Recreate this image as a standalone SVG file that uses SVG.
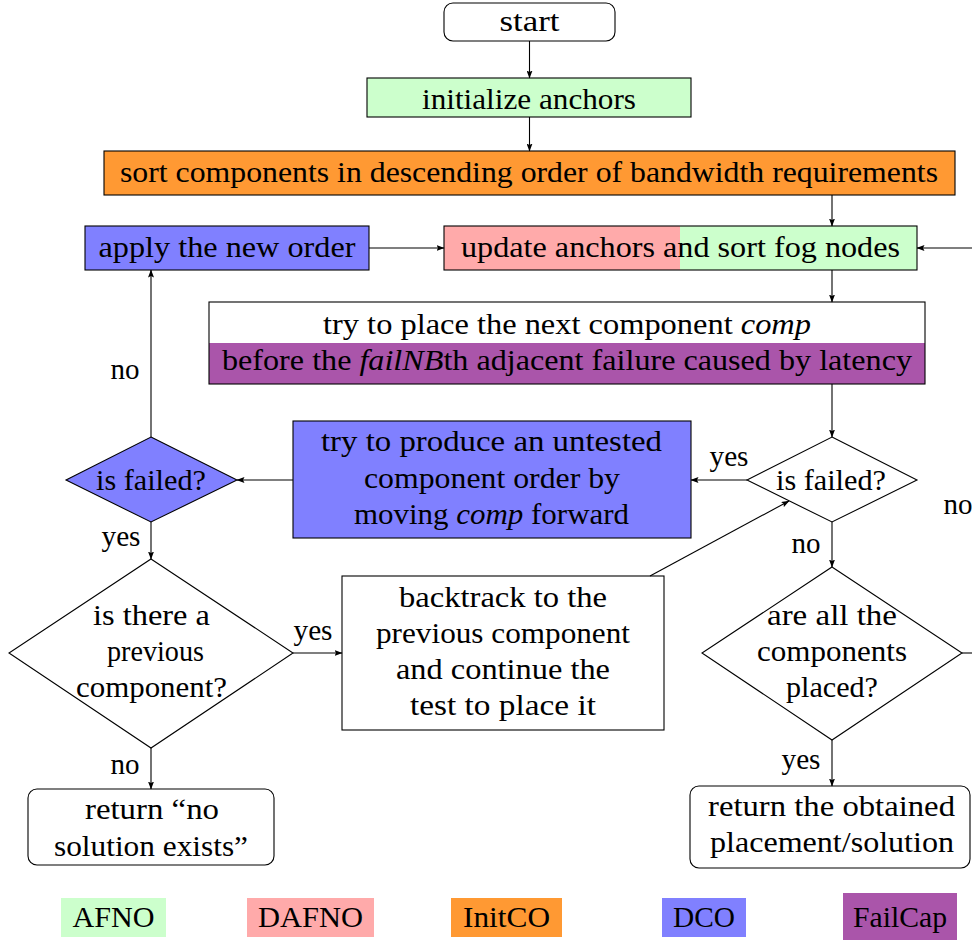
<svg xmlns="http://www.w3.org/2000/svg" width="972" height="940" viewBox="0 0 972 940">
<style>
text{fill:#000;text-anchor:middle}
.box{stroke:#000;stroke-width:1.1}
.edge{stroke:#000;stroke-width:1.1;fill:none;marker-end:url(#ah)}
.plain{stroke:#000;stroke-width:1.1;fill:none}
.afno{fill:#ccffcc}.dafno{fill:#ffaaaa}.initco{fill:#ff9933}.dco{fill:#8080ff}.failcap{fill:#aa55aa}
</style>
<defs>
<marker id="ah" markerWidth="8" markerHeight="6" refX="7.5" refY="3" orient="auto" markerUnits="userSpaceOnUse">
<path d="M0,0 L8,3 L0,6 L1.5,3 z" fill="#000"/>
</marker>
</defs>

<g id="start">
<rect class="box" x="444" y="3" width="171" height="38" rx="9" fill="#fff"/>
<text x="529.5" y="31" style="font-family:'Liberation Serif',serif;font-size:30px" textLength="60" lengthAdjust="spacingAndGlyphs">start</text>
</g>
<g id="init">
<rect class="box afno" x="367" y="78" width="324" height="39"/>
<text x="529" y="109" style="font-family:'Liberation Serif',serif;font-size:30px" textLength="214" lengthAdjust="spacingAndGlyphs">initialize anchors</text>
</g>
<g id="sort">
<rect class="box initco" x="104" y="151" width="851" height="44"/>
<text x="529" y="182" style="font-family:'Liberation Serif',serif;font-size:30px" textLength="818" lengthAdjust="spacingAndGlyphs">sort components in descending order of bandwidth requirements</text>
</g>
<g id="apply">
<rect class="box dco" x="85" y="226" width="284" height="44"/>
<text x="227" y="257" style="font-family:'Liberation Serif',serif;font-size:30px" textLength="257" lengthAdjust="spacingAndGlyphs">apply the new order</text>
</g>
<g id="update">
<rect class="dafno" x="444" y="226" width="236" height="44"/>
<rect class="afno" x="680" y="226" width="237" height="44"/>
<rect class="box" x="444" y="226" width="473" height="44" fill="none"/>
<text x="680.5" y="257" style="font-family:'Liberation Serif',serif;font-size:30px" textLength="439" lengthAdjust="spacingAndGlyphs">update anchors and sort fog nodes</text>
</g>
<g id="try">
<rect x="209" y="302" width="716" height="41" fill="#fff"/>
<rect class="failcap" x="209" y="343" width="716" height="41"/>
<rect class="box" x="209" y="302" width="716" height="82" fill="none"/>
<text x="567" y="334" style="font-family:'Liberation Serif',serif;font-size:30px" textLength="488" lengthAdjust="spacingAndGlyphs">try to place the next component <tspan style="font-style:italic">comp</tspan></text>
<text x="567" y="370" style="font-family:'Liberation Serif',serif;font-size:30px" textLength="690" lengthAdjust="spacingAndGlyphs">before the <tspan style="font-style:italic">failNB</tspan>th adjacent failure caused by latency</text>
</g>
<g id="failed1">
<polygon class="box" points="832,437 917,480 832,522 747,480" fill="#fff"/>
<text x="831" y="490" style="font-family:'Liberation Serif',serif;font-size:30px" textLength="110" lengthAdjust="spacingAndGlyphs">is failed?</text>
</g>
<g id="produce">
<rect class="box dco" x="293" y="421" width="398" height="117"/>
<text x="491.5" y="451" style="font-family:'Liberation Serif',serif;font-size:30px" textLength="341" lengthAdjust="spacingAndGlyphs">try to produce an untested</text>
<text x="492" y="488" style="font-family:'Liberation Serif',serif;font-size:30px" textLength="256" lengthAdjust="spacingAndGlyphs">component order by</text>
<text x="491.5" y="524" style="font-family:'Liberation Serif',serif;font-size:30px" textLength="275" lengthAdjust="spacingAndGlyphs">moving <tspan style="font-style:italic">comp</tspan> forward</text>
</g>
<g id="failed2">
<polygon class="box dco" points="151,437 237,480 151,522 66,480"/>
<text x="151" y="490" style="font-family:'Liberation Serif',serif;font-size:30px" textLength="110" lengthAdjust="spacingAndGlyphs">is failed?</text>
</g>
<g id="previous">
<polygon class="box" points="151,559 293,653 151,748 9,653" fill="#fff"/>
<text x="151.5" y="625" style="font-family:'Liberation Serif',serif;font-size:30px" textLength="117" lengthAdjust="spacingAndGlyphs">is there a</text>
<text x="155.5" y="661" style="font-family:'Liberation Serif',serif;font-size:30px" textLength="97" lengthAdjust="spacingAndGlyphs">previous</text>
<text x="151.5" y="697" style="font-family:'Liberation Serif',serif;font-size:30px" textLength="151" lengthAdjust="spacingAndGlyphs">component?</text>
</g>
<g id="backtrack">
<rect class="box" x="342" y="576" width="322" height="154" fill="#fff"/>
<text x="503" y="607" style="font-family:'Liberation Serif',serif;font-size:30px" textLength="208" lengthAdjust="spacingAndGlyphs">backtrack to the</text>
<text x="503" y="643" style="font-family:'Liberation Serif',serif;font-size:30px" textLength="254" lengthAdjust="spacingAndGlyphs">previous component</text>
<text x="503" y="679" style="font-family:'Liberation Serif',serif;font-size:30px" textLength="214" lengthAdjust="spacingAndGlyphs">and continue the</text>
<text x="503" y="715" style="font-family:'Liberation Serif',serif;font-size:30px" textLength="186" lengthAdjust="spacingAndGlyphs">test to place it</text>
</g>
<g id="allplaced">
<polygon class="box" points="832,567 962,653 832,740 702,653" fill="#fff"/>
<text x="832" y="625" style="font-family:'Liberation Serif',serif;font-size:30px" textLength="130" lengthAdjust="spacingAndGlyphs">are all the</text>
<text x="832" y="661" style="font-family:'Liberation Serif',serif;font-size:30px" textLength="150" lengthAdjust="spacingAndGlyphs">components</text>
<text x="832" y="697" style="font-family:'Liberation Serif',serif;font-size:30px" textLength="92" lengthAdjust="spacingAndGlyphs">placed?</text>
</g>
<g id="return_ok">
<rect class="box" x="690" y="786" width="280" height="82" rx="9" fill="#fff"/>
<text x="831.5" y="816" style="font-family:'Liberation Serif',serif;font-size:30px" textLength="247" lengthAdjust="spacingAndGlyphs">return the obtained</text>
<text x="832" y="852" style="font-family:'Liberation Serif',serif;font-size:30px" textLength="244" lengthAdjust="spacingAndGlyphs">placement/solution</text>
</g>
<g id="return_no">
<rect class="box" x="28" y="789" width="246" height="76" rx="9" fill="#fff"/>
<text x="152" y="819" style="font-family:'Liberation Serif',serif;font-size:30px" textLength="134" lengthAdjust="spacingAndGlyphs">return “no</text>
<text x="151" y="856" style="font-family:'Liberation Serif',serif;font-size:30px" textLength="194" lengthAdjust="spacingAndGlyphs">solution exists”</text>
</g>

<g id="connectors">
<path class="edge" d="M529.5,41 V78"/>
<path class="edge" d="M529.5,117 V151"/>
<path class="edge" d="M832,195 V226"/>
<path class="edge" d="M369,248 H444"/>
<path class="edge" d="M972,248 H917"/>
<path class="edge" d="M832,270 V302"/>
<path class="edge" d="M832,384 V437"/>
<path class="edge" d="M747,480 H691"/>
<path class="edge" d="M293,480 H237"/>
<path class="edge" d="M151,437 V270"/>
<path class="edge" d="M151,522 V559"/>
<path class="edge" d="M293,653 H342"/>
<path class="edge" d="M151,748 V789"/>
<path class="edge" d="M650,576 L789,501"/>
<path class="edge" d="M832,522 V567"/>
<path class="edge" d="M832,740 V786"/>
<path class="plain" d="M962,653 H972"/>
</g>

<g id="edge_labels">
<text x="729" y="466" style="font-family:'Liberation Serif',serif;font-size:30px" textLength="39" lengthAdjust="spacingAndGlyphs">yes</text>
<text x="806" y="553" style="font-family:'Liberation Serif',serif;font-size:30px" textLength="29" lengthAdjust="spacingAndGlyphs">no</text>
<text x="801" y="769" style="font-family:'Liberation Serif',serif;font-size:30px" textLength="39" lengthAdjust="spacingAndGlyphs">yes</text>
<text x="958" y="514" style="font-family:'Liberation Serif',serif;font-size:30px" textLength="29" lengthAdjust="spacingAndGlyphs">no</text>
<text x="125" y="379" style="font-family:'Liberation Serif',serif;font-size:30px" textLength="29" lengthAdjust="spacingAndGlyphs">no</text>
<text x="121" y="546" style="font-family:'Liberation Serif',serif;font-size:30px" textLength="39" lengthAdjust="spacingAndGlyphs">yes</text>
<text x="313" y="640" style="font-family:'Liberation Serif',serif;font-size:30px" textLength="39" lengthAdjust="spacingAndGlyphs">yes</text>
<text x="125" y="774" style="font-family:'Liberation Serif',serif;font-size:30px" textLength="29" lengthAdjust="spacingAndGlyphs">no</text>
</g>

<g id="legend">
<rect class="afno" x="61" y="898" width="105" height="39"/>
<text x="113.5" y="927" style="font-family:'Liberation Serif',serif;font-size:30px" textLength="82" lengthAdjust="spacingAndGlyphs">AFNO</text>
<rect class="dafno" x="247" y="898" width="127" height="39"/>
<text x="310.5" y="927" style="font-family:'Liberation Serif',serif;font-size:30px" textLength="105" lengthAdjust="spacingAndGlyphs">DAFNO</text>
<rect class="initco" x="451" y="898" width="111" height="39"/>
<text x="506.5" y="927" style="font-family:'Liberation Serif',serif;font-size:30px" textLength="87" lengthAdjust="spacingAndGlyphs">InitCO</text>
<rect class="dco" x="662" y="898" width="84" height="39"/>
<text x="704" y="927" style="font-family:'Liberation Serif',serif;font-size:30px" textLength="62" lengthAdjust="spacingAndGlyphs">DCO</text>
<rect class="failcap" x="843" y="893" width="114" height="47"/>
<text x="900" y="927" style="font-family:'Liberation Serif',serif;font-size:30px" textLength="94" lengthAdjust="spacingAndGlyphs">FailCap</text>
</g>
</svg>
